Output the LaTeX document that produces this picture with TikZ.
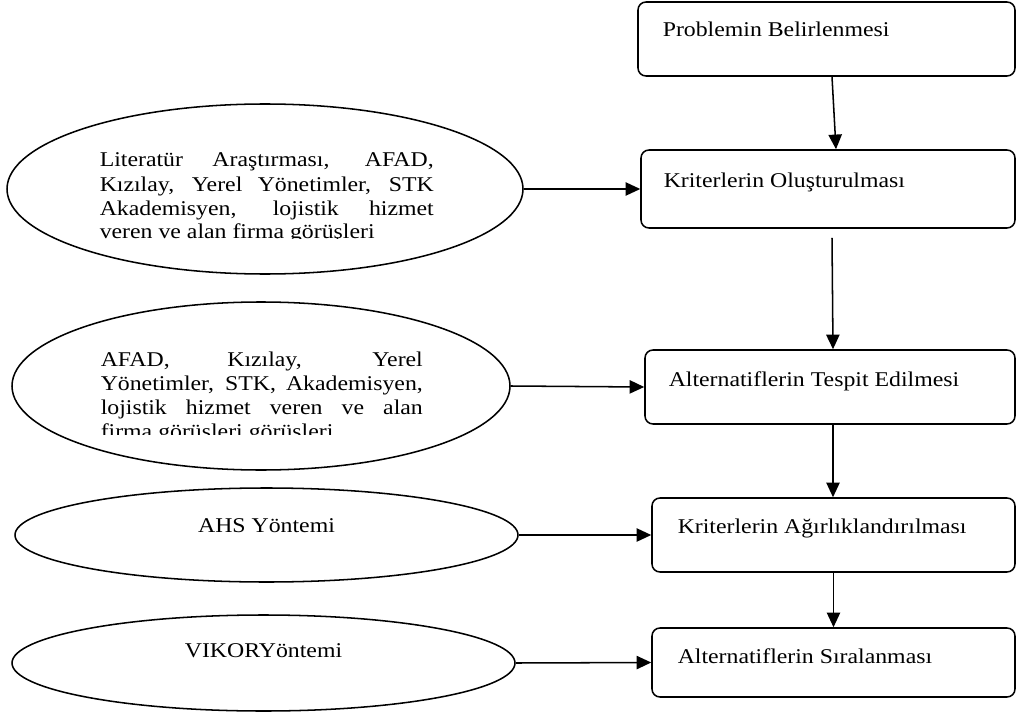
\documentclass[tikz,border=0pt]{standalone}
\usepackage{graphicx}
\usepackage{fontspec}
\setmainfont{Liberation Serif}
\usetikzlibrary{shapes.geometric,arrows.meta,calc}
\newcommand\stretchtxt[1]{\scalebox{1.133}[1]{#1}}
\begin{document}
\begin{tikzpicture}[x=0.75pt,y=-0.75pt,line width=1.15pt,
  stepbox/.style={draw,rounded corners=6pt,inner sep=0pt},
  oval/.style={draw,ellipse,inner sep=0pt},
  txt/.style={inner sep=0pt,font=\fontsize{15.75pt}{18pt}\selectfont},
  arr/.style={-{Triangle[length=11pt,width=10pt]}}]
\useasboundingbox (0,0) rectangle (1017,713);
% right boxes
\node[stepbox,minimum width=282.75pt,minimum height=55.5pt] (b1) at (826.5,39) {};
\node[stepbox,minimum width=280.5pt,minimum height=58.5pt] (b2) at (828,189) {};
\node[stepbox,minimum width=277.5pt,minimum height=55.5pt] (b3) at (830,387) {};
\node[stepbox,minimum width=272.25pt,minimum height=55.5pt] (b4) at (833.5,535) {};
\node[stepbox,minimum width=272.25pt,minimum height=51.75pt] (b5) at (833.5,662.5) {};
\node[txt,anchor=base west] (tb1) at (662,37) {\stretchtxt{Problemin Belirlenmesi}};
\node[txt,anchor=base west] (tb2) at (663,187) {\stretchtxt{Kriterlerin Oluşturulması}};
\node[txt,anchor=base west] (tb3) at (668,386) {\stretchtxt{Alternatiflerin Tespit Edilmesi}};
\node[txt,anchor=base west] (tb4) at (677,533) {\stretchtxt{Kriterlerin Ağırlıklandırılması}};
\node[txt,anchor=base west] (tb5) at (677,663) {\stretchtxt{Alternatiflerin Sıralanması}};
% ellipses
\node[oval,minimum width=387pt,minimum height=127.5pt] (e1) at (265,189) {};
\node[oval,minimum width=373.5pt,minimum height=126pt] (e2) at (261,386) {};
\node[oval,minimum width=377.25pt,minimum height=70.5pt] (e3) at (266.5,535) {};
\node[oval,minimum width=377.25pt,minimum height=72pt] (e4) at (263.5,663) {};
\begin{scope}
\clip (90,110) rectangle (480,238);
\node[txt,anchor=base west] (te1) at (99,167) {\stretchtxt{\parbox[t]{221.1pt}{%
\makebox[\linewidth][s]{Literatür Araştırması, AFAD,}\\
\makebox[\linewidth][s]{Kızılay, Yerel Yönetimler, STK}\\
\makebox[\linewidth][s]{Akademisyen, lojistik hizmet}\\
veren ve alan firma görüşleri}}};
\end{scope}
\begin{scope}
\clip (90,310) rectangle (480,434);
\node[txt,anchor=base west] (te2) at (100,366) {\stretchtxt{\parbox[t]{213.2pt}{%
\makebox[\linewidth][s]{AFAD, Kızılay, Yerel}\\
\makebox[\linewidth][s]{Yönetimler, STK, Akademisyen,}\\
\makebox[\linewidth][s]{lojistik hizmet veren ve alan}\\
firma görüşleri görüşleri}}};
\end{scope}
\node[txt,anchor=base] (te3) at (266.5,532) {\stretchtxt{AHS Yöntemi}};
\node[txt,anchor=base] (te4) at (263.5,657) {\stretchtxt{VIKORYöntemi}};
% connectors
\draw[arr] ($(b1.south)+(5.5,0)$) -- ($(b2.north)+(8,0)$);
\draw[arr] ($(b2.south)+(4,9)$) -- ($(b3.north)+(3,0)$);
\draw[arr] ($(b3.south)+(3,0)$) -- ($(b4.north)+(-0.5,0)$);
\draw[arr] (b4.south) -- (b5.north);
\draw[arr] (e1.east) -- (b2.west);
\draw[arr] (e2.east) -- (b3.west);
\draw[arr] (e3.east) -- (b4.west);
\draw[arr] (e4.east) -- (b5.west);
\end{tikzpicture}
\end{document}
